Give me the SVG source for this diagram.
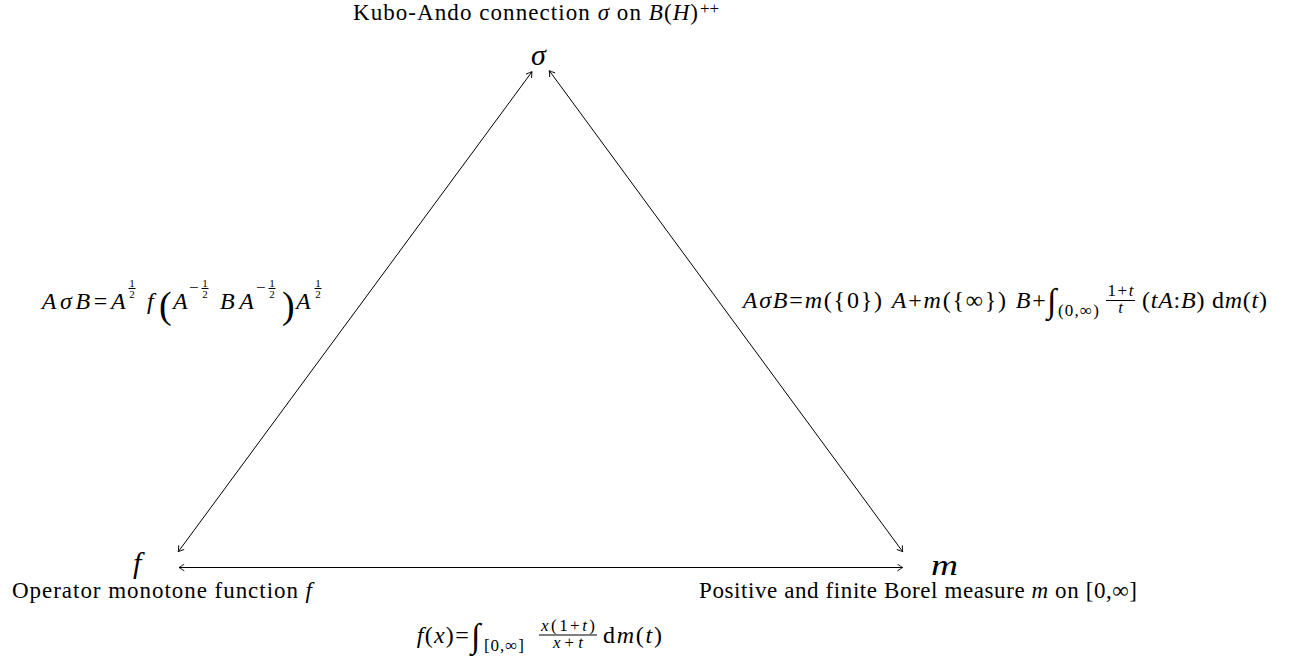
<svg xmlns="http://www.w3.org/2000/svg" width="1306" height="660" viewBox="0 0 1306 660">
<defs>
<style>
.mi{font-family:"Liberation Serif","Times New Roman",serif;font-style:italic;font-size:24px;fill:#000}
.mr{font-family:"Liberation Serif","Times New Roman",serif;font-style:normal;font-size:24px;fill:#000}
.si{font-family:"Liberation Serif","Times New Roman",serif;font-style:italic;font-size:17px;fill:#000}
.sr{font-family:"Liberation Serif","Times New Roman",serif;font-style:normal;font-size:17px;fill:#000}
.ss{font-family:"Liberation Serif","Times New Roman",serif;font-style:normal;font-size:11px;fill:#000}
.big{font-family:"Liberation Serif","Times New Roman",serif;font-size:38px;fill:#000}
.int{font-family:"Liberation Serif","Times New Roman",serif;font-size:34px;fill:#000}
.tx{font-family:"Liberation Serif","Times New Roman",serif;font-size:23px;fill:#000}
.nd{font-family:"Liberation Serif","Times New Roman",serif;font-style:italic;font-size:30px;fill:#000}
.it{font-style:italic}
.bar{stroke:#000;stroke-width:1}
.edge{stroke:#000;stroke-width:1;fill:none;marker-start:url(#ah);marker-end:url(#ah)}
</style>
<marker id="ah" viewBox="-6 -4 8 8" refX="0" refY="0" markerWidth="8" markerHeight="8" markerUnits="userSpaceOnUse" orient="auto-start-reverse">
<path d="M-5,-3.2 Q-1.5,-0.8 0,0 Q-1.5,0.8 -5,3.2" fill="none" stroke="#000" stroke-width="0.9" stroke-linecap="round"/>
</marker>
</defs>
<rect width="1306" height="660" fill="#fff"/>

<g id="connectors">
<line class="edge" x1="178.3" y1="551.7" x2="532" y2="71.7"/>
<line class="edge" x1="549.3" y1="70.7" x2="902.7" y2="551.7"/>
<line class="edge" x1="179" y1="567.5" x2="902.7" y2="567.5"/>
</g>

<g id="node-sigma">
<text class="nd" x="531" y="65">σ</text>
<text class="tx" x="353" y="20" textLength="345" lengthAdjust="spacing">Kubo-Ando connection <tspan class="it">σ</tspan> on <tspan class="it">B</tspan>(<tspan class="it">H</tspan>)</text>
<text class="sr" x="700" y="14">++</text>
</g>

<g id="node-f">
<text class="nd" x="133" y="573">f</text>
<text class="tx" x="12" y="598" textLength="300" lengthAdjust="spacing">Operator monotone function <tspan class="it">f</tspan></text>
</g>

<g id="node-m">
<text class="nd" x="931" y="575" textLength="27" lengthAdjust="spacingAndGlyphs">m</text>
<text class="tx" x="699" y="598" textLength="438" lengthAdjust="spacing">Positive and finite Borel measure <tspan class="it">m</tspan> on [0,∞]</text>
</g>

<g id="label-left">
<text class="mi" x="41.7" y="309" textLength="84" lengthAdjust="spacing">AσB<tspan class="mr">=</tspan>A</text>
<text class="ss" x="132" y="286.5" text-anchor="middle">1</text>
<line class="bar" x1="128.5" y1="288.5" x2="135.5" y2="288.5"/>
<text class="ss" x="132" y="297.5" text-anchor="middle">2</text>
<text class="mi" x="147" y="309">f</text>
<text class="big" x="159" y="318">(</text>
<text class="mi" x="173" y="309">A</text>
<text class="sr" x="189" y="293">−</text>
<text class="ss" x="205" y="286.5" text-anchor="middle">1</text>
<line class="bar" x1="201.5" y1="288.5" x2="208.5" y2="288.5"/>
<text class="ss" x="205" y="297.5" text-anchor="middle">2</text>
<text class="mi" x="220" y="309" textLength="34" lengthAdjust="spacing">BA</text>
<text class="sr" x="256" y="293">−</text>
<text class="ss" x="272" y="286.5" text-anchor="middle">1</text>
<line class="bar" x1="268.5" y1="288.5" x2="275.5" y2="288.5"/>
<text class="ss" x="272" y="297.5" text-anchor="middle">2</text>
<text class="big" x="282" y="318">)</text>
<text class="mi" x="296" y="309">A</text>
<text class="ss" x="318" y="286.5" text-anchor="middle">1</text>
<line class="bar" x1="314.5" y1="288.5" x2="321.5" y2="288.5"/>
<text class="ss" x="318" y="297.5" text-anchor="middle">2</text>
</g>

<g id="label-right">
<text class="mi" x="742.7" y="308" textLength="303" lengthAdjust="spacing">AσB<tspan class="mr">=</tspan>m<tspan class="mr">({0}) </tspan>A<tspan class="mr">+</tspan>m<tspan class="mr">({∞}) </tspan>B<tspan class="mr">+</tspan></text>
<text class="int" x="1047" y="312">∫</text>
<text class="sr" x="1058" y="316" textLength="41" lengthAdjust="spacing">(0,∞)</text>
<text class="sr" x="1120.5" y="296" text-anchor="middle" textLength="26" lengthAdjust="spacing">1+<tspan class="it">t</tspan></text>
<line class="bar" x1="1106" y1="300.5" x2="1135" y2="300.5"/>
<text class="si" x="1120.5" y="313" text-anchor="middle">t</text>
<text class="mr" x="1142" y="308" textLength="125" lengthAdjust="spacing">(<tspan class="it">tA</tspan>:<tspan class="it">B</tspan>) d<tspan class="it">m</tspan>(<tspan class="it">t</tspan>)</text>
</g>

<g id="label-bottom">
<text class="mi" x="416.7" y="643" textLength="52" lengthAdjust="spacing">f<tspan class="mr">(</tspan>x<tspan class="mr">)=</tspan></text>
<text class="int" x="471" y="647">∫</text>
<text class="sr" x="484" y="651" textLength="40" lengthAdjust="spacing">[0,∞]</text>
<text class="si" x="568" y="630.5" text-anchor="middle" textLength="54" lengthAdjust="spacing">x<tspan class="sr">(1+</tspan>t<tspan class="sr">)</tspan></text>
<line class="bar" x1="539" y1="635" x2="597" y2="635"/>
<text class="si" x="568" y="648" text-anchor="middle" textLength="30" lengthAdjust="spacing">x<tspan class="sr">+</tspan>t</text>
<text class="mr" x="603" y="643" textLength="59" lengthAdjust="spacing">d<tspan class="it">m</tspan>(<tspan class="it">t</tspan>)</text>
</g>
</svg>
